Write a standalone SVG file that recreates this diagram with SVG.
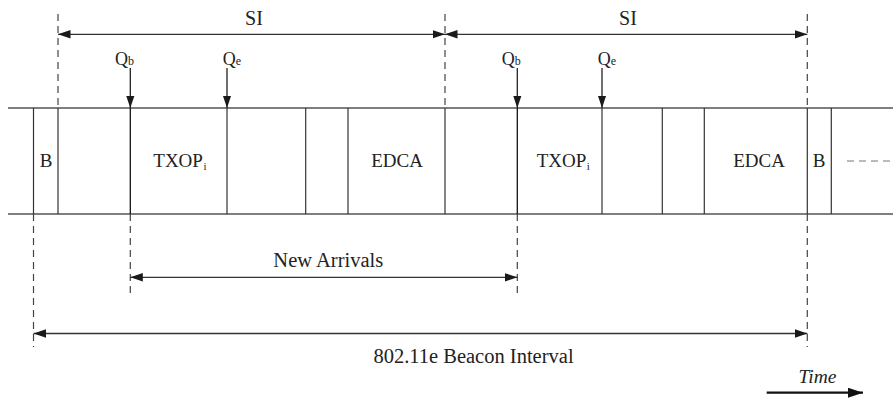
<svg xmlns="http://www.w3.org/2000/svg" width="893" height="398" viewBox="0 0 893 398">
<defs>
<marker id="ah" markerUnits="userSpaceOnUse" markerWidth="13" markerHeight="9" refX="12.5" refY="4.5" orient="auto-start-reverse">
<path d="M0,0.3 L12.5,4.5 L0,8.7 Z" fill="#1a1a1a"/>
</marker>
<marker id="ahT" markerUnits="userSpaceOnUse" markerWidth="16" markerHeight="10" refX="15" refY="5" orient="auto">
<path d="M0,0 L15,5 L0,10 Z" fill="#111"/>
</marker>
<style>
.frame{stroke:#555;stroke-width:1.3;fill:none}
.div{stroke:#333;stroke-width:1.2;fill:none}
.q{stroke:#111;stroke-width:1.3;fill:none}
.dash{stroke:#444;stroke-width:1.2;stroke-dasharray:7 5;fill:none}
.arr{stroke:#333;stroke-width:1.3;fill:none;marker-start:url(#ah);marker-end:url(#ah)}
.qa{stroke:#222;stroke-width:1.3;fill:none;marker-end:url(#ah)}
text{font-family:"Liberation Serif","Times New Roman",serif;fill:#222}
.lbl{font-size:19px;text-anchor:middle}
.lft{font-size:19px;text-anchor:start}
.big{font-size:20.5px;text-anchor:middle}
.qt{font-size:18px}
.sub{font-size:12px}
.subi{font-size:11px}
</style>
</defs>
<rect width="893" height="398" fill="#fff"/>

<g id="timeline">
<line class="frame" x1="8" y1="108" x2="893" y2="108"/>
<line class="frame" x1="8" y1="214" x2="893" y2="214"/>
<line class="div" x1="33.5" y1="108" x2="33.5" y2="214"/>
<line class="div" x1="58" y1="108" x2="58" y2="214"/>
<line class="q" x1="130.3" y1="108" x2="130.3" y2="214"/>
<line class="div" x1="227" y1="108" x2="227" y2="214"/>
<line class="div" x1="305.7" y1="108" x2="305.7" y2="214"/>
<line class="div" x1="348" y1="108" x2="348" y2="214"/>
<line class="div" x1="445" y1="108" x2="445" y2="214"/>
<line class="q" x1="517.3" y1="108" x2="517.3" y2="214"/>
<line class="div" x1="602" y1="108" x2="602" y2="214"/>
<line class="div" x1="662.3" y1="108" x2="662.3" y2="214"/>
<line class="div" x1="704.3" y1="108" x2="704.3" y2="214"/>
<line class="div" x1="807.3" y1="108" x2="807.3" y2="214"/>
<line class="div" x1="831.3" y1="108" x2="831.3" y2="214"/>
<line x1="847" y1="161" x2="892" y2="161" stroke="#777" stroke-width="1.2" stroke-dasharray="7 5"/>
</g>

<g id="guides">
<line class="dash" x1="58" y1="14" x2="58" y2="108"/>
<line class="dash" x1="445" y1="14" x2="445" y2="108"/>
<line class="dash" x1="807.3" y1="14" x2="807.3" y2="108"/>
<line class="dash" x1="33.5" y1="214" x2="33.5" y2="347"/>
<line class="dash" x1="130.3" y1="214" x2="130.3" y2="294"/>
<line class="dash" x1="517.3" y1="214" x2="517.3" y2="294"/>
<line class="dash" x1="807.3" y1="214" x2="807.3" y2="347"/>
</g>

<g id="node-B1"><text class="lbl" x="46" y="167">B</text></g>
<g id="node-TXOP1"><text class="lft" x="153.3" y="167">TXOP<tspan class="subi" dx="0.5" dy="3">i</tspan></text></g>
<g id="node-EDCA1"><text class="lbl" x="397" y="167">EDCA</text></g>
<g id="node-TXOP2"><text class="lft" x="536.7" y="167">TXOP<tspan class="subi" dx="0.5" dy="3">i</tspan></text></g>
<g id="node-EDCA2"><text class="lbl" x="759" y="167">EDCA</text></g>
<g id="node-B2"><text class="lbl" x="819" y="167">B</text></g>

<g id="node-Qb1"><text class="qt" x="115" y="65">Q<tspan class="sub">b</tspan></text></g>
<g id="node-Qe1"><text class="qt" x="222.7" y="65">Q<tspan class="sub">e</tspan></text></g>
<g id="node-Qb2"><text class="qt" x="501.7" y="65">Q<tspan class="sub">b</tspan></text></g>
<g id="node-Qe2"><text class="qt" x="597.7" y="65">Q<tspan class="sub">e</tspan></text></g>

<g id="labels">
<text class="lbl" x="254" y="24.5" style="font-size:20px">SI</text>
<text class="lbl" x="628" y="24.5" style="font-size:20px">SI</text>
<text class="big" x="328.3" y="267">New Arrivals</text>
<text class="big" x="473.5" y="363">802.11e Beacon Interval</text>
<text x="817.5" y="383" style="font-size:19.5px;font-style:italic;text-anchor:middle">Time</text>
</g>

<g id="connectors">
<line class="arr" x1="58" y1="34.3" x2="445" y2="34.3"/>
<line class="arr" x1="445" y1="34.3" x2="807.3" y2="34.3"/>
<line class="qa" x1="130.3" y1="68" x2="130.3" y2="108"/>
<line class="qa" x1="227" y1="68" x2="227" y2="108"/>
<line class="qa" x1="517.3" y1="68" x2="517.3" y2="108"/>
<line class="qa" x1="602" y1="68" x2="602" y2="108"/>
<line class="arr" x1="130.3" y1="277.3" x2="517.3" y2="277.3"/>
<line class="arr" x1="33.5" y1="333.5" x2="807.3" y2="333.5"/>
<line x1="766.7" y1="392.7" x2="863" y2="392.7" stroke="#111" stroke-width="2.2" marker-end="url(#ahT)"/>
</g>
</svg>
